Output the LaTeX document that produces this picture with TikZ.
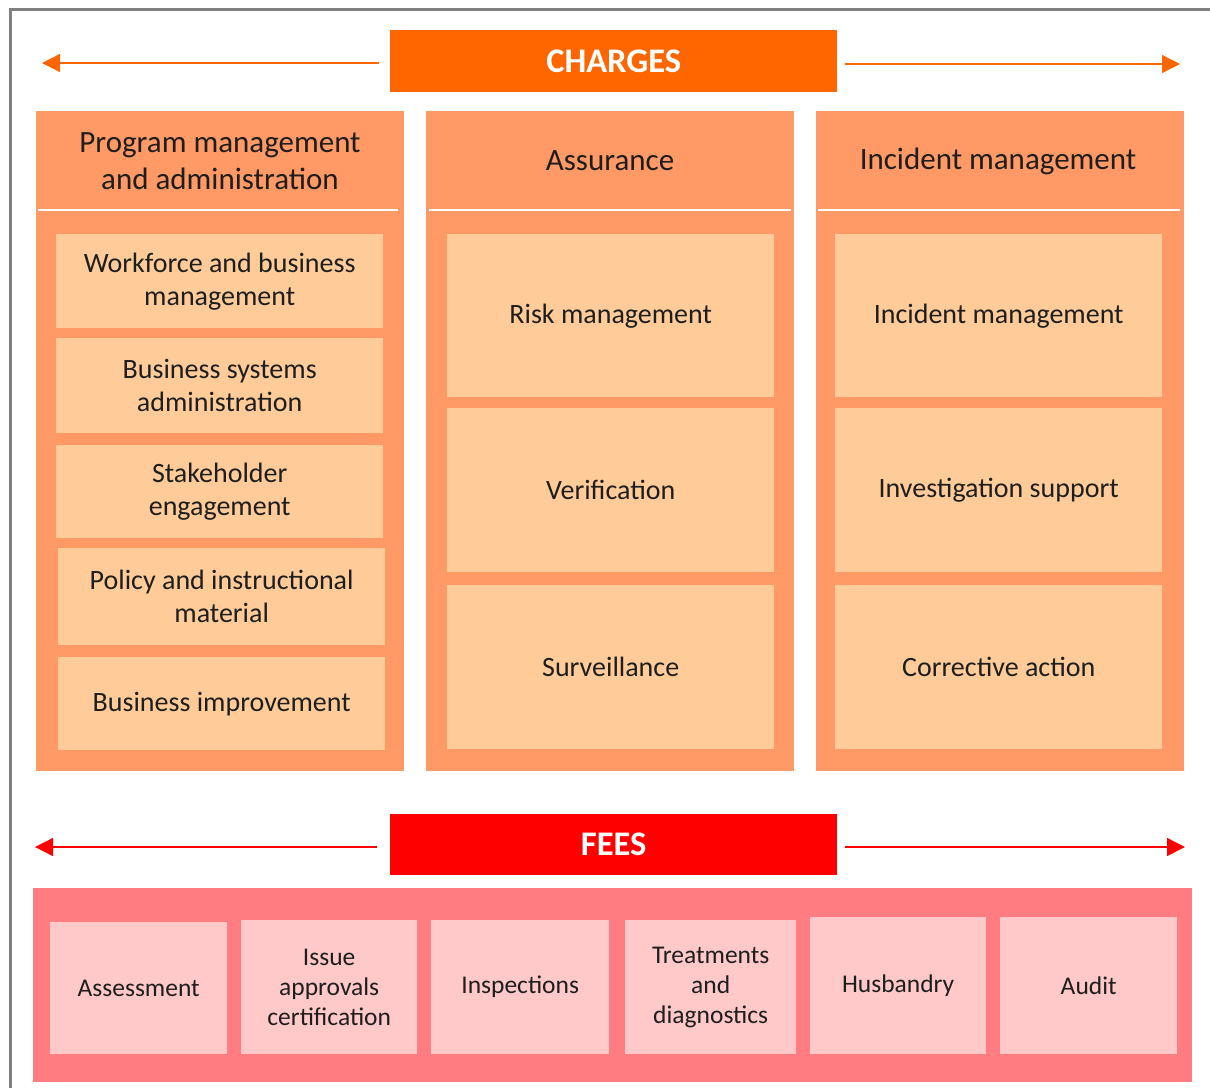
\documentclass[tikz,border=0pt]{standalone}
\usepackage{fontspec}
\setmainfont{Carlito}
\usetikzlibrary{arrows.meta,positioning}

\definecolor{chargeorange}{HTML}{FF6600}
\definecolor{colsalmon}{HTML}{FF9966}
\definecolor{itempeach}{HTML}{FFCC99}
\definecolor{feered}{HTML}{FF0000}
\definecolor{feepink}{HTML}{FF7C80}
\definecolor{feelight}{HTML}{FFC9C9}
\definecolor{textdark}{HTML}{1E1E1E}
\definecolor{framegray}{HTML}{808080}

\tikzset{
	titlebox/.style={anchor=north west, inner sep=0pt, text=white, font=\fontsize{34.5}{40}\selectfont\bfseries,
		minimum width=447pt, minimum height=62pt},
	colbox/.style={anchor=north west, fill=colsalmon, inner sep=0pt, minimum width=368pt, minimum height=660pt},
	headtext/.style={text=textdark, align=center, font=\fontsize{31}{37}\selectfont},
	itembox/.style={anchor=north west, fill=itempeach, inner sep=0pt, minimum width=327pt, text=textdark,
		align=center, font=\fontsize{28}{33}\selectfont},
	feeband/.style={anchor=north west, fill=feepink, inner sep=0pt, minimum width=1159pt, minimum height=194pt},
	feebox/.style={anchor=north west, fill=feelight, inner sep=0pt, minimum height=134pt, text=textdark,
		align=center, font=\fontsize{25.5}{30}\selectfont},
	spanarrow/.style={line width=1.3pt, -{Triangle[length=18pt,width=18pt]}},
}

\begin{document}
\begin{tikzpicture}[x=1pt,y=-1pt]
	\useasboundingbox (0,0) rectangle (1210,1088);
	% frame
	\draw[framegray, line width=3pt] (10,1088) -- (10,9.5) -- (1210,9.5);
	
	% charges
	\node[titlebox, fill=chargeorange] (charges) at (390,30) {CHARGES};
	\coordinate (chL) at (42,63);
	\coordinate (chR) at (1180,64);
	\draw[spanarrow, chargeorange, shorten <=11pt] (charges.west |- chL) -- (chL);
	\draw[spanarrow, chargeorange, shorten <=8pt] (charges.east |- chR) -- (chR);
	
	\node[colbox] (prog) at (36,111) {};
	\node[colbox] (assur) at (426,111) {};
	\node[colbox] (incid) at (816,111) {};
	
	\node[headtext] (progHead) at (220,161) {Program management\\and administration};
	\node[headtext] (assurHead) at (610,161) {Assurance};
	\node[headtext] (incidHead) at (998,161) {Incident management};
	
	\draw[white, line width=1.5pt] (38,210) -- (398,210);
	\draw[white, line width=1.5pt] (429,210) -- (791,210);
	\draw[white, line width=1.5pt] (818,210) -- (1180,210);
	
	% program management items
	\node[itembox, minimum height=94pt] (workforce) at (56,234) {Workforce and business\\management};
	\node[itembox, minimum height=95pt] (bizsys) at (56,338) {Business systems\\administration};
	\node[itembox, minimum height=93pt] (stake) at (56,445) {Stakeholder\\engagement};
	\node[itembox, minimum height=97pt] (policy) at (58,548) {Policy and instructional\\material};
	\node[itembox, minimum height=93pt] (improve) at (58,657) {Business improvement};
	
	% assurance items
	\node[itembox, minimum height=163pt] (risk) at (447,234) {Risk management};
	\node[itembox, minimum height=164pt] (verif) at (447,408) {Verification};
	\node[itembox, minimum height=164pt] (surv) at (447,585) {Surveillance};
	
	% incident items
	\node[itembox, minimum height=163pt] (incman) at (835,234) {Incident management};
	\node[itembox, minimum height=164pt] (invest) at (835,408) {Investigation support};
	\node[itembox, minimum height=164pt] (correct) at (835,585) {Corrective action};
	
	% fees
	\node[titlebox, fill=feered, minimum height=61pt] (fees) at (390,814) {FEES};
	\coordinate (feL) at (35,847);
	\coordinate (feR) at (1185,847);
	\draw[spanarrow, feered, shorten <=13pt] (fees.west |- feL) -- (feL);
	\draw[spanarrow, feered, shorten <=8pt] (fees.east |- feR) -- (feR);
	
	\node[feeband] (band) at (33,888) {};
	
	\node[feebox, minimum width=177pt, minimum height=132pt] (assess) at (50,922) {Assessment};
	\node[feebox, minimum width=176pt] (issue) at (241,920) {Issue\\approvals\\certification};
	\node[feebox, minimum width=178pt] (inspect) at (431,920) {Inspections};
	\node[feebox, minimum width=171pt] (treat) at (625,920) {Treatments\\and\\diagnostics};
	\node[feebox, minimum width=176pt, minimum height=137pt] (husb) at (810,917) {Husbandry};
	\node[feebox, minimum width=177pt, minimum height=137pt] (audit) at (1000,917) {Audit};
\end{tikzpicture}
\end{document}
